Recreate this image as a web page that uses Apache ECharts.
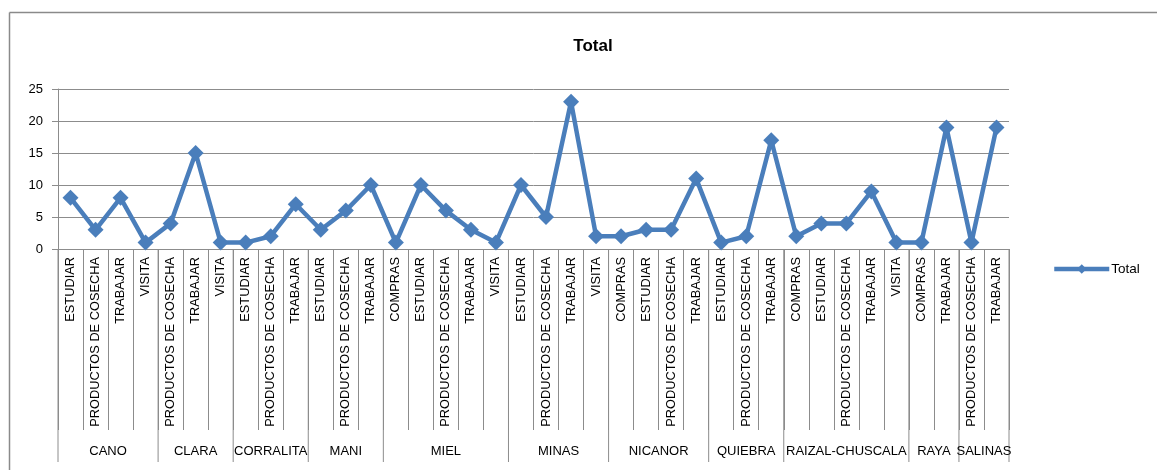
<!DOCTYPE html>
<html>
<head>
<meta charset="utf-8">
<script src="https://cdn.jsdelivr.net/npm/echarts@6/dist/echarts.min.js"></script>
<style>
html,body{margin:0;padding:0;background:#fff;}
#main{width:1157px;height:470px;}
</style>
</head>
<body>
<div id="main"></div>
<script>
// Data
const groups = ["CANO","CLARA","CORRALITA","MANI","MIEL","MINAS","NICANOR","QUIEBRA","RAIZAL-CHUSCALA","RAYA","SALINAS"];
const groupItems = [
  ["ESTUDIAR","PRODUCTOS DE COSECHA","TRABAJAR","VISITA"],
  ["PRODUCTOS DE COSECHA","TRABAJAR","VISITA"],
  ["ESTUDIAR","PRODUCTOS DE COSECHA","TRABAJAR"],
  ["ESTUDIAR","PRODUCTOS DE COSECHA","TRABAJAR"],
  ["COMPRAS","ESTUDIAR","PRODUCTOS DE COSECHA","TRABAJAR","VISITA"],
  ["ESTUDIAR","PRODUCTOS DE COSECHA","TRABAJAR","VISITA"],
  ["COMPRAS","ESTUDIAR","PRODUCTOS DE COSECHA","TRABAJAR"],
  ["ESTUDIAR","PRODUCTOS DE COSECHA","TRABAJAR"],
  ["COMPRAS","ESTUDIAR","PRODUCTOS DE COSECHA","TRABAJAR","VISITA"],
  ["COMPRAS","TRABAJAR"],
  ["PRODUCTOS DE COSECHA","TRABAJAR"]
];
const totals = [8,3,8,1, 4,15,1, 1,2,7, 3,6,10, 1,10,6,3,1, 10,5,23,2, 2,3,3,11, 1,2,17, 2,4,4,9,1, 1,19, 1,19];
const yTicks = [0,5,10,15,20,25];

const categories = [];
groupItems.forEach(function(items){ items.forEach(function(it){ categories.push(it); }); });

const gray = '#8c8c8c';
const FONT = 'Liberation Sans';

const chart = echarts.init(document.getElementById('main'));
chart.setOption({
  animation:false,
  backgroundColor:'#fff',
  title:{text:'Total', left:588, top:33, textAlign:'center',
    textStyle:{fontFamily:FONT, fontSize:17, fontWeight:'bold', color:'#000'}},
  legend:{data:['Total'], left:1047, top:257, itemWidth:55, itemHeight:12, itemGap:4,
    lineStyle:{width:4.5},
    textStyle:{fontFamily:FONT, fontSize:13.5, color:'#000', padding:[0,0,0,-3]}},
  grid:{left:58, right:148, top:89, bottom:221},
  xAxis:{type:'category', data:categories, boundaryGap:true,
    axisLine:{show:true, lineStyle:{color:gray, width:1}},
    axisTick:{show:true, interval:0, length:181, lineStyle:{color:gray, width:1}},
    axisLabel:{interval:0, rotate:90, margin:8, fontFamily:FONT, fontSize:12.8, color:'#000'},
    splitLine:{show:false}
  },
  yAxis:{type:'value', min:0, max:25, interval:5,
    axisLine:{show:true, lineStyle:{color:gray, width:1}},
    axisTick:{show:true, length:6, lineStyle:{color:gray}},
    axisLabel:{fontFamily:FONT, fontSize:13, color:'#000', margin:15,
      formatter:function(v){ return yTicks.indexOf(v) >= 0 ? String(v) : ''; }},
    splitLine:{show:true, lineStyle:{color:gray, width:1}}
  },
  series:[{name:'Total', type:'line', data:totals,
    symbol:'diamond', symbolSize:16,
    lineStyle:{color:'#4a7ebb', width:4.5},
    itemStyle:{color:'#4a7ebb'}
  }]
});

// Group axis drawn through the category scale
const x0 = chart.convertToPixel({xAxisIndex:0}, 0);
const x1 = chart.convertToPixel({xAxisIndex:0}, 1);
const band = x1 - x0;
const yZero = chart.convertToPixel({yAxisIndex:0}, 0);
const graphics = [
  {type:'line', shape:{x1:9.5, y1:12.5, x2:1157, y2:12.5}, style:{stroke:'#8a8a8a', lineWidth:1.5}, silent:true},
  {type:'line', shape:{x1:9.5, y1:12.5, x2:9.5, y2:470}, style:{stroke:'#8a8a8a', lineWidth:1.5}, silent:true}
];
let idx = 0;
const bottomY = yZero + 213;
const firstLeft = x0 - band/2;
graphics.push({type:'line', shape:{x1:firstLeft, y1:yZero, x2:firstLeft, y2:bottomY}, style:{stroke:gray, lineWidth:1}, silent:true});
groups.forEach(function(g, gi){
  const n = groupItems[gi].length;
  const left = chart.convertToPixel({xAxisIndex:0}, idx) - band/2;
  const right = chart.convertToPixel({xAxisIndex:0}, idx + n - 1) + band/2;
  graphics.push({type:'line', shape:{x1:right, y1:yZero, x2:right, y2:bottomY}, style:{stroke:gray, lineWidth:1}, silent:true});
  graphics.push({type:'text', x:(left+right)/2, y:yZero + 202, silent:true,
    style:{text:g, fill:'#000', font:'13px "' + FONT + '"', textAlign:'center', textVerticalAlign:'middle'}});
  idx += n;
});
chart.setOption({graphic:graphics});
</script>
</body>
</html>
